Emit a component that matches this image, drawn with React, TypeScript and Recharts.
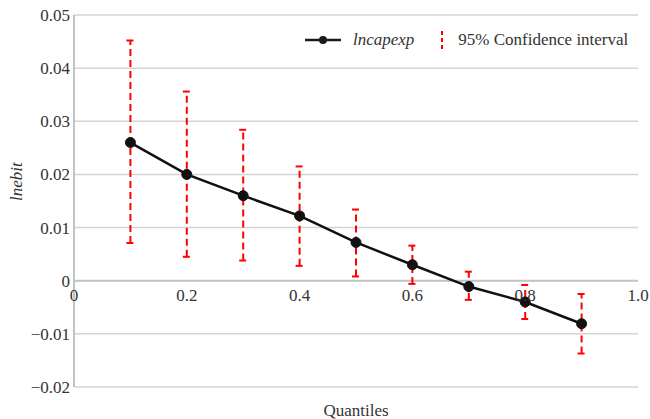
import {
  ComposedChart,
  Line,
  ErrorBar,
  XAxis,
  YAxis,
  CartesianGrid,
  ReferenceLine,
  ReferenceDot,
} from 'recharts'

const quantiles = [0.1, 0.2, 0.3, 0.4, 0.5, 0.6, 0.7, 0.8, 0.9]
const coef = [0.026, 0.02, 0.016, 0.0122, 0.0072, 0.003, -0.0011, -0.004, -0.0081]
const ciLow = [0.0071, 0.0045, 0.0038, 0.0028, 0.0008, -0.0006, -0.0036, -0.0072, -0.0137]
const ciHigh = [0.0452, 0.0356, 0.0284, 0.0215, 0.0134, 0.0066, 0.0017, -0.0008, -0.0025]

const xTicks = [0, 0.2, 0.4, 0.6, 0.8, 1.0]
const xTickLabels = ['0', '0.2', '0.4', '0.6', '0.8', '1.0']
const yTicks = [-0.02, -0.01, 0, 0.01, 0.02, 0.03, 0.04, 0.05]

const FONT = 'Liberation Serif'
const TEXT = '#333'

const data = quantiles.map((q, i) => ({
  q,
  coef: coef[i],
  err: [coef[i] - ciLow[i], ciHigh[i] - coef[i]],
}))

// y tick labels use a real minus sign, like the original
const fmtY = (v: number) => {
  if (Math.abs(v) < 1e-9) return '0'
  const s = Math.abs(v).toFixed(2)
  return v < 0 ? `\u2212${s}` : s
}

function LegendBox() {
  return (
    <div
      style={{
        position: 'absolute',
        top: 30,
        left: 305,
        display: 'flex',
        alignItems: 'center',
        fontFamily: FONT,
        fontSize: 17,
        color: TEXT,
      }}
    >
      <svg width={36} height={12} style={{ marginRight: 12 }}>
        <line x1={0} y1={6} x2={36} y2={6} stroke="#1a1a1a" strokeWidth={2.5} />
        <circle cx={18} cy={6} r={4} fill="#1a1a1a" />
      </svg>
      <span style={{ fontStyle: 'italic' }}>lncapexp</span>
      <svg width={4} height={18} style={{ marginLeft: 26, marginRight: 14 }}>
        <line x1={2} y1={0} x2={2} y2={18} stroke="#ff0000" strokeWidth={2} strokeDasharray="4 3" />
      </svg>
      <span>95% Confidence interval</span>
    </div>
  )
}

export default function App() {
  return (
    <div
      style={{
        position: 'absolute',
        left: 0,
        top: 0,
        width: 650,
        height: 419,
        background: '#fff',
        fontFamily: FONT,
      }}
    >
      <ComposedChart
        width={650}
        height={419}
        data={data}
        margin={{ top: 15, right: 12, bottom: 0, left: 0 }}
        style={{ fontFamily: FONT }}
      >
        <CartesianGrid horizontal vertical={false} stroke="#d4d4d4" strokeWidth={1.5} />
        <XAxis
          dataKey="q"
          type="number"
          domain={[0, 1]}
          ticks={xTicks}
          tick={false}
          tickLine={false}
          axisLine={false}
          height={32}
          label={{
            value: 'Quantiles',
            position: 'insideBottom',
            offset: 3,
            fill: TEXT,
            fontFamily: FONT,
            fontSize: 17,
          }}
        />
        <YAxis
          type="number"
          domain={[-0.02, 0.05]}
          ticks={yTicks}
          tickFormatter={fmtY}
          width={74}
          tickLine={false}
          axisLine={{ stroke: '#c4c4c4', strokeWidth: 2 }}
          tick={{ fill: TEXT, fontFamily: FONT, fontSize: 17, dx: 4 }}
          tickMargin={2}
          label={{
            value: 'lnebit',
            angle: -90,
            position: 'insideLeft',
            offset: 16,
            fill: TEXT,
            fontFamily: FONT,
            fontSize: 17,
            fontStyle: 'italic',
          }}
        />
        <ReferenceLine y={0} stroke="#c4c4c4" strokeWidth={2} />
        {xTicks.map((t, i) => (
          <ReferenceDot
            key={t}
            x={t}
            y={0}
            r={0}
            fill="none"
            stroke="none"
            label={{
              value: xTickLabels[i],
              position: 'bottom',
              offset: 8,
              fill: TEXT,
              fontFamily: FONT,
              fontSize: 17,
            }}
          />
        ))}
        <Line
          dataKey="coef"
          stroke="#111"
          strokeWidth={2.5}
          dot={{ r: 5, fill: '#111', stroke: '#111', strokeWidth: 1 }}
          activeDot={false}
          isAnimationActive={false}
        >
          <ErrorBar
            dataKey="err"
            direction="y"
            stroke="#ff0000"
            strokeWidth={2}
            strokeDasharray="7 4"
            width={4}
          />
        </Line>
      </ComposedChart>
      <LegendBox />
    </div>
  )
}
